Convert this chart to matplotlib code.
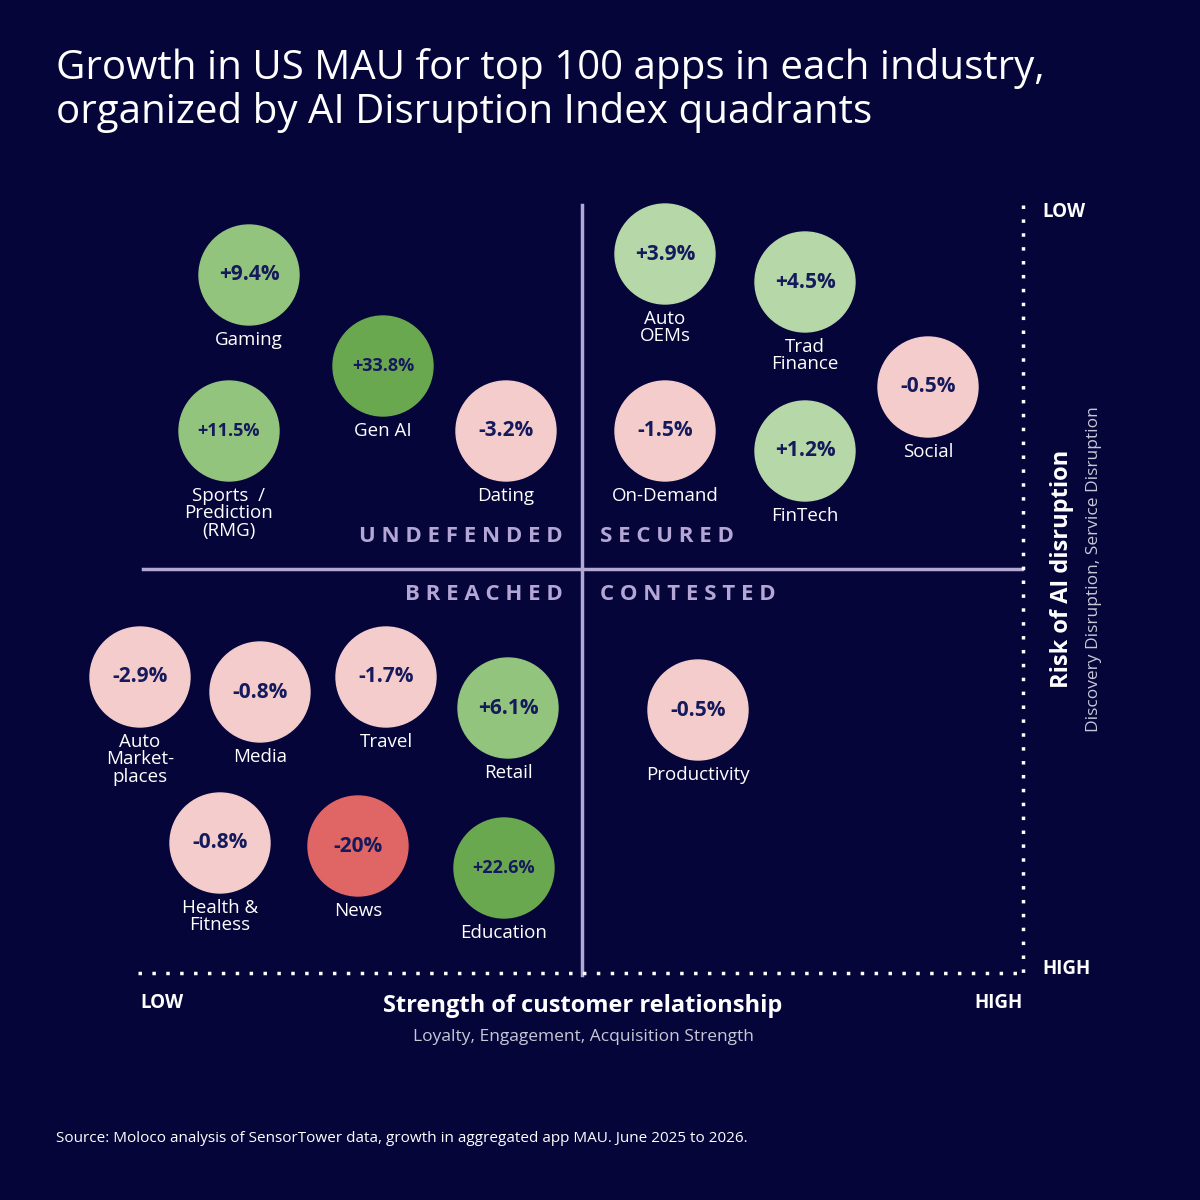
import matplotlib
matplotlib.use("Agg")
import matplotlib.pyplot as plt
from matplotlib.patches import Circle

plt.rcParams['font.family'] = ['Open Sans', 'DejaVu Sans']

BG = "#05053a"
NAVY = "#141a5c"
LAV = "#b4a7d6"

# bubble data (chart units = px on a 1200 grid, y down)
names = ["Gaming", "Gen AI", "Sports  /\nPrediction\n(RMG)", "Dating",
         "Auto\nOEMs", "Trad\nFinance", "Social", "On-Demand", "FinTech",
         "Auto\nMarket-\nplaces", "Media", "Travel", "Retail", "Productivity",
         "Health &\nFitness", "News", "Education"]
xs = [249, 383, 229, 506, 665, 805, 928, 665, 805, 140, 260, 386, 508, 698, 220, 358, 504]
ys = [275, 366, 431, 431, 254, 282, 387, 431, 451, 677, 692, 677, 708, 710, 843, 846, 868]
growth = ["+9.4%", "+33.8%", "+11.5%", "-3.2%", "+3.9%", "+4.5%", "-0.5%", "-1.5%",
          "+1.2%", "-2.9%", "-0.8%", "-1.7%", "+6.1%", "-0.5%", "-0.8%", "-20%", "+22.6%"]
tone = ["mid", "dark", "mid", "pink", "light", "light", "pink", "pink", "light",
        "pink", "pink", "pink", "mid", "pink", "pink", "red", "dark"]
colors = {"light": "#b6d7a8", "mid": "#93c47d", "dark": "#6aa84f",
          "pink": "#f4cccc", "red": "#e06666"}

fig = plt.figure(figsize=(12, 12), dpi=100, facecolor=BG)
ax = fig.add_axes([0, 0, 1, 1])
ax.set_xlim(0, 1200)
ax.set_ylim(1200, 0)
ax.set_facecolor(BG)
ax.axis("off")

fig.text(56/1200, 1-48/1200, "Growth in US MAU for top 100 apps in each industry,\norganized by AI Disruption Index quadrants",
         color="white", fontsize=29, va="top", ha="left", linespacing=1.1)

# quadrant lines
ax.plot([582, 582], [205, 975], color=LAV, lw=2.5)
ax.plot([143, 1022], [569, 569], color=LAV, lw=2.5)
ax.plot([138, 1022], [973, 973], color="white", lw=2.5, ls=(0, (1, 3)))
ax.plot([1023, 1023], [205, 973], color="white", lw=2.5, ls=(0, (1, 3)))

qkw = dict(color=LAV, fontsize=16, fontweight="bold", va="center")
ax.text(563, 537, "U N D E F E N D E D", ha="right", **qkw)
ax.text(600, 537, "S E C U R E D", ha="left", **qkw)
ax.text(563, 595, "B R E A C H E D", ha="right", **qkw)
ax.text(600, 595, "C O N T E S T E D", ha="left", **qkw)

for n, x, y, g, t in zip(names, xs, ys, growth, tone):
    ax.add_patch(Circle((x, y), 50, color=colors[t], zorder=3))
    fs = 13 if len(g) > 5 else 15
    ax.text(x, y, g, ha="center", va="center", fontsize=fs, fontweight="bold",
            color=NAVY, zorder=4)
    ax.text(x, y + 56, n, ha="center", va="top", fontsize=13.5, color="white",
            linespacing=0.95, zorder=4)

# axis labels
ax.text(140, 1003, "LOW", color="white", fontsize=13.5, fontweight="bold", va="center")
ax.text(1023, 1003, "HIGH", color="white", fontsize=13.5, fontweight="bold", va="center", ha="right")
ax.text(1042, 212, "LOW", color="white", fontsize=13.5, fontweight="bold", va="center")
ax.text(1042, 969, "HIGH", color="white", fontsize=13.5, fontweight="bold", va="center")
ax.text(583, 1006, "Strength of customer relationship", color="white", fontsize=17,
        fontweight="bold", ha="center", va="center")
ax.text(583, 1037, "Loyalty, Engagement, Acquisition Strength", color="#c8c8d8",
        fontsize=12.5, ha="center", va="center")
ax.text(1062, 569, "Risk of AI disruption", color="white", fontsize=17, fontweight="bold",
        rotation=90, ha="center", va="center")
ax.text(1094, 569, "Discovery Disruption, Service Disruption", color="#c8c8d8",
        fontsize=12.5, rotation=90, ha="center", va="center")

ax.text(56, 1139, "Source: Moloco analysis of SensorTower data, growth in aggregated app MAU. June 2025 to 2026.",
        color="white", fontsize=11, va="center")

fig.savefig("out.png", dpi=100, facecolor=BG)
